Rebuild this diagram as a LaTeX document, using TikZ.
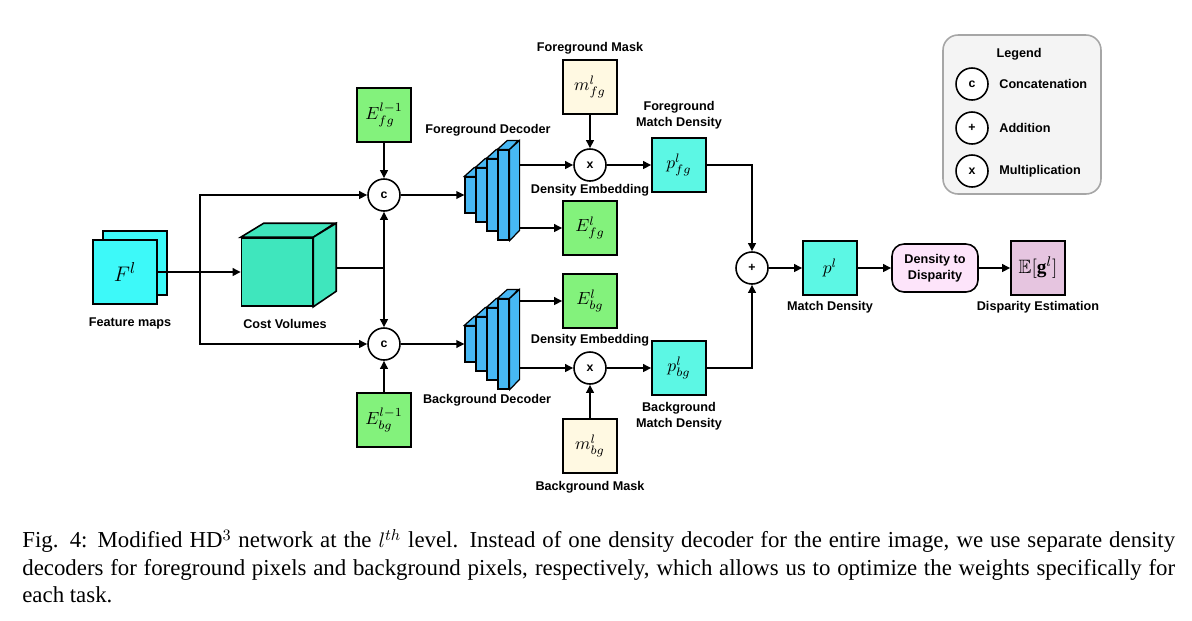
\documentclass[tikz,border=0pt]{standalone}
\usepackage{fontspec}
\usepackage{amssymb}
\setmainfont{Liberation Serif}
\setsansfont{Liberation Sans}
\usetikzlibrary{arrows.meta}
\definecolor{mapcyan}{HTML}{3DF9F9}
\definecolor{costteal}{HTML}{3FE6BD}
\definecolor{embgreen}{HTML}{83F27C}
\definecolor{decblue}{HTML}{47B8F4}
\definecolor{maskcream}{HTML}{FFF9E2}
\definecolor{densaqua}{HTML}{5CF7E4}
\definecolor{dispink}{HTML}{FDE4FA}
\definecolor{estmauve}{HTML}{E6C5E0}
\definecolor{legendgray}{HTML}{F4F4F4}
\tikzset{
	lbl/.style={font=\sffamily\bfseries\fontsize{7.2}{8.8}\selectfont, inner sep=0pt, align=center},
	arr/.style={-{Triangle[length=4.6pt,width=4.4pt]}, line width=0.9pt},
	wire/.style={line width=0.9pt},
	sq/.style={draw, line width=0.9pt, minimum size=1.08cm, inner sep=0pt, font=\fontsize{10}{12}\selectfont},
	embbox/.style={sq, fill=embgreen},
	maskbox/.style={sq, fill=maskcream},
	densbox/.style={sq, fill=densaqua},
	fmap/.style={sq, fill=mapcyan, minimum size=1.28cm, font=\fontsize{13}{15}\selectfont},
	op/.style={circle, draw, line width=0.9pt, fill=white, minimum size=0.64cm, inner sep=0pt, font=\sffamily\bfseries\fontsize{7}{8}\selectfont},
	declayer/.style={draw, line width=0.7pt, fill=decblue, inner sep=0pt, minimum width=0.22cm},
}
\begin{document}
\begin{tikzpicture}[x=0.02cm,y=-0.02cm]
	\useasboundingbox (0,0) rectangle (1192,620);
	%feature maps and cost volume
	\node [fmap] (fmback) at (135,263) {};
	\node [fmap] (fm) at (125,272) {$F^l$};
	\node [lbl] (fmlbl) at (130,323) {Feature maps};
	\node [draw, line width=0.9pt, fill=costteal, minimum width=1.42cm, minimum height=1.36cm] (cv) at (277,272) {};
	\draw [wire, fill=costteal] (cv.north west) -- ++(23,-14) -- ++(71,0) -- (cv.north east) -- cycle;
	\draw [wire, fill=costteal] (cv.north east) -- ++(23,-14) -- ++(0,68) -- (cv.south east) -- cycle;
	\node [lbl] (cvlbl) at (285,324) {Cost Volumes};
	\draw [arr] (fm.east) -- (cv.west);
	%concatenations
	\node [op] (ctop) at (384,195) {c};
	\node [op] (cbot) at (384,344) {c};
	\node [embbox] (eprevfg) at (384,115) {$E_{fg}^{l-1}$};
	\node [embbox] (eprevbg) at (384,420) {$E_{bg}^{l-1}$};
	\coordinate (split) at (200,272);
	\coordinate (cvjoin) at (384,268);
	\draw [arr] (split) |- (ctop);
	\draw [arr] (split) |- (cbot);
	\draw [wire] ([shift={(23,-4)}]cv.east) -- (cvjoin);
	\draw [arr] (cvjoin) -- (ctop);
	\draw [arr] (cvjoin) -- (cbot);
	\draw [arr] (eprevfg) -- (ctop);
	\draw [arr] (eprevbg) -- (cbot);
	%decoders
	\foreach \d/\cy in {fg/195,bg/344} {
		\foreach \n/\cx/\h in {1/470.5/36,2/481.5/54,3/492.5/72,4/503.5/90} {
			\node [declayer, minimum height=\h*0.02cm] (d\d\n) at (\cx,\cy) {};
			\draw [declayer] (d\d\n.north west) -- ++(10,-9) -- ++(11,0) -- (d\d\n.north east) -- cycle;
			\draw [declayer] (d\d\n.north east) -- ++(10,-9) -- ++(0,\h) -- (d\d\n.south east) -- cycle;
		}
		\coordinate (d\d out) at ([shift={(10,0)}]d\d4.east);
	}
	\node [lbl] (dfglbl) at (488,130) {Foreground Decoder};
	\node [lbl] (dbglbl) at (487,400) {Background Decoder};
	\draw [arr] (ctop) -- (dfg1);
	\draw [arr] (cbot) -- (dbg1);
	%foreground branch
	\node [op] (xfg) at (590,165) {x};
	\node [maskbox] (mfg) at (590,87) {$m_{fg}^l$};
	\node [lbl] (mfglbl) at (590,48) {Foreground Mask};
	\node [embbox] (efg) at (590,228) {$E_{fg}^l$};
	\node [lbl] (efglbl) at (590,190) {Density Embedding};
	\node [densbox] (pfg) at (679,165) {$p_{fg}^l$};
	\node [lbl] (pfglbl) at (679,115) {Foreground\\Match Density};
	\draw [arr] (dfgout |- xfg) -- (xfg);
	\draw [arr] (dfgout |- efg) -- (efg);
	\draw [arr] (mfg) -- (xfg);
	\draw [arr] (xfg) -- (pfg);
	%background branch
	\node [op] (xbg) at (590,368) {x};
	\node [maskbox] (mbg) at (590,446) {$m_{bg}^l$};
	\node [lbl] (mbglbl) at (590,487) {Background Mask};
	\node [embbox] (ebg) at (590,301) {$E_{bg}^l$};
	\node [lbl] (ebglbl) at (590,340) {Density Embedding};
	\node [densbox] (pbg) at (679,368) {$p_{bg}^l$};
	\node [lbl] (pbglbl) at (679,416) {Background\\Match Density};
	\draw [arr] (dbgout |- ebg) -- (ebg);
	\draw [arr] (dbgout |- xbg) -- (xbg);
	\draw [arr] (mbg) -- (xbg);
	\draw [arr] (xbg) -- (pbg);
	%merge and estimation
	\node [op] (plus) at (752,268) {+};
	\node [densbox] (pl) at (830,268) {$p^l$};
	\node [lbl] (pllbl) at (830,307) {Match Density};
	\node [draw, line width=0.9pt, fill=dispink, rounded corners=0.24cm, minimum width=1.72cm, minimum height=0.96cm, lbl] (d2d) at (935,268) {Density to\\Disparity};
	\node [sq, fill=estmauve, font=\fontsize{11}{13}\selectfont] (eg) at (1038,268) {$\mathbb{E}[\mathbf{g}^l]$};
	\node [lbl] (eglbl) at (1038,307) {Disparity Estimation};
	\draw [arr] (pfg) -| (plus);
	\draw [arr] (pbg) -| (plus);
	\draw [arr] (plus) -- (pl);
	\draw [arr] (pl) -- (d2d);
	\draw [arr] (d2d) -- (eg);
	%legend
	\node [draw=gray!70, line width=0.9pt, fill=legendgray, rounded corners=0.3cm, minimum width=3.16cm, minimum height=3.18cm] (legend) at (1022,114.5) {};
	\node [lbl] (legendlbl) at (1019,54) {Legend};
	\foreach \y/\sym/\txt in {84/c/Concatenation,128/+/Addition,171/x/Multiplication} {
		\node [op] (leg\sym) at (972,\y) {\sym};
		\node [lbl, anchor=west] at (999,\y) {\txt};
	}
	%caption
	\node [anchor=north west, inner sep=0pt, text width=23.06cm, align=justify, font=\fontsize{13}{15.6}\selectfont] (caption) at (22,529) {Fig. 4: Modified HD$^3$ network at the $l^{th}$ level. Instead of one density decoder for the entire image, we use separate density decoders for foreground pixels and background pixels, respectively, which allows us to optimize the weights specifically for each task.};
\end{tikzpicture}
\end{document}
